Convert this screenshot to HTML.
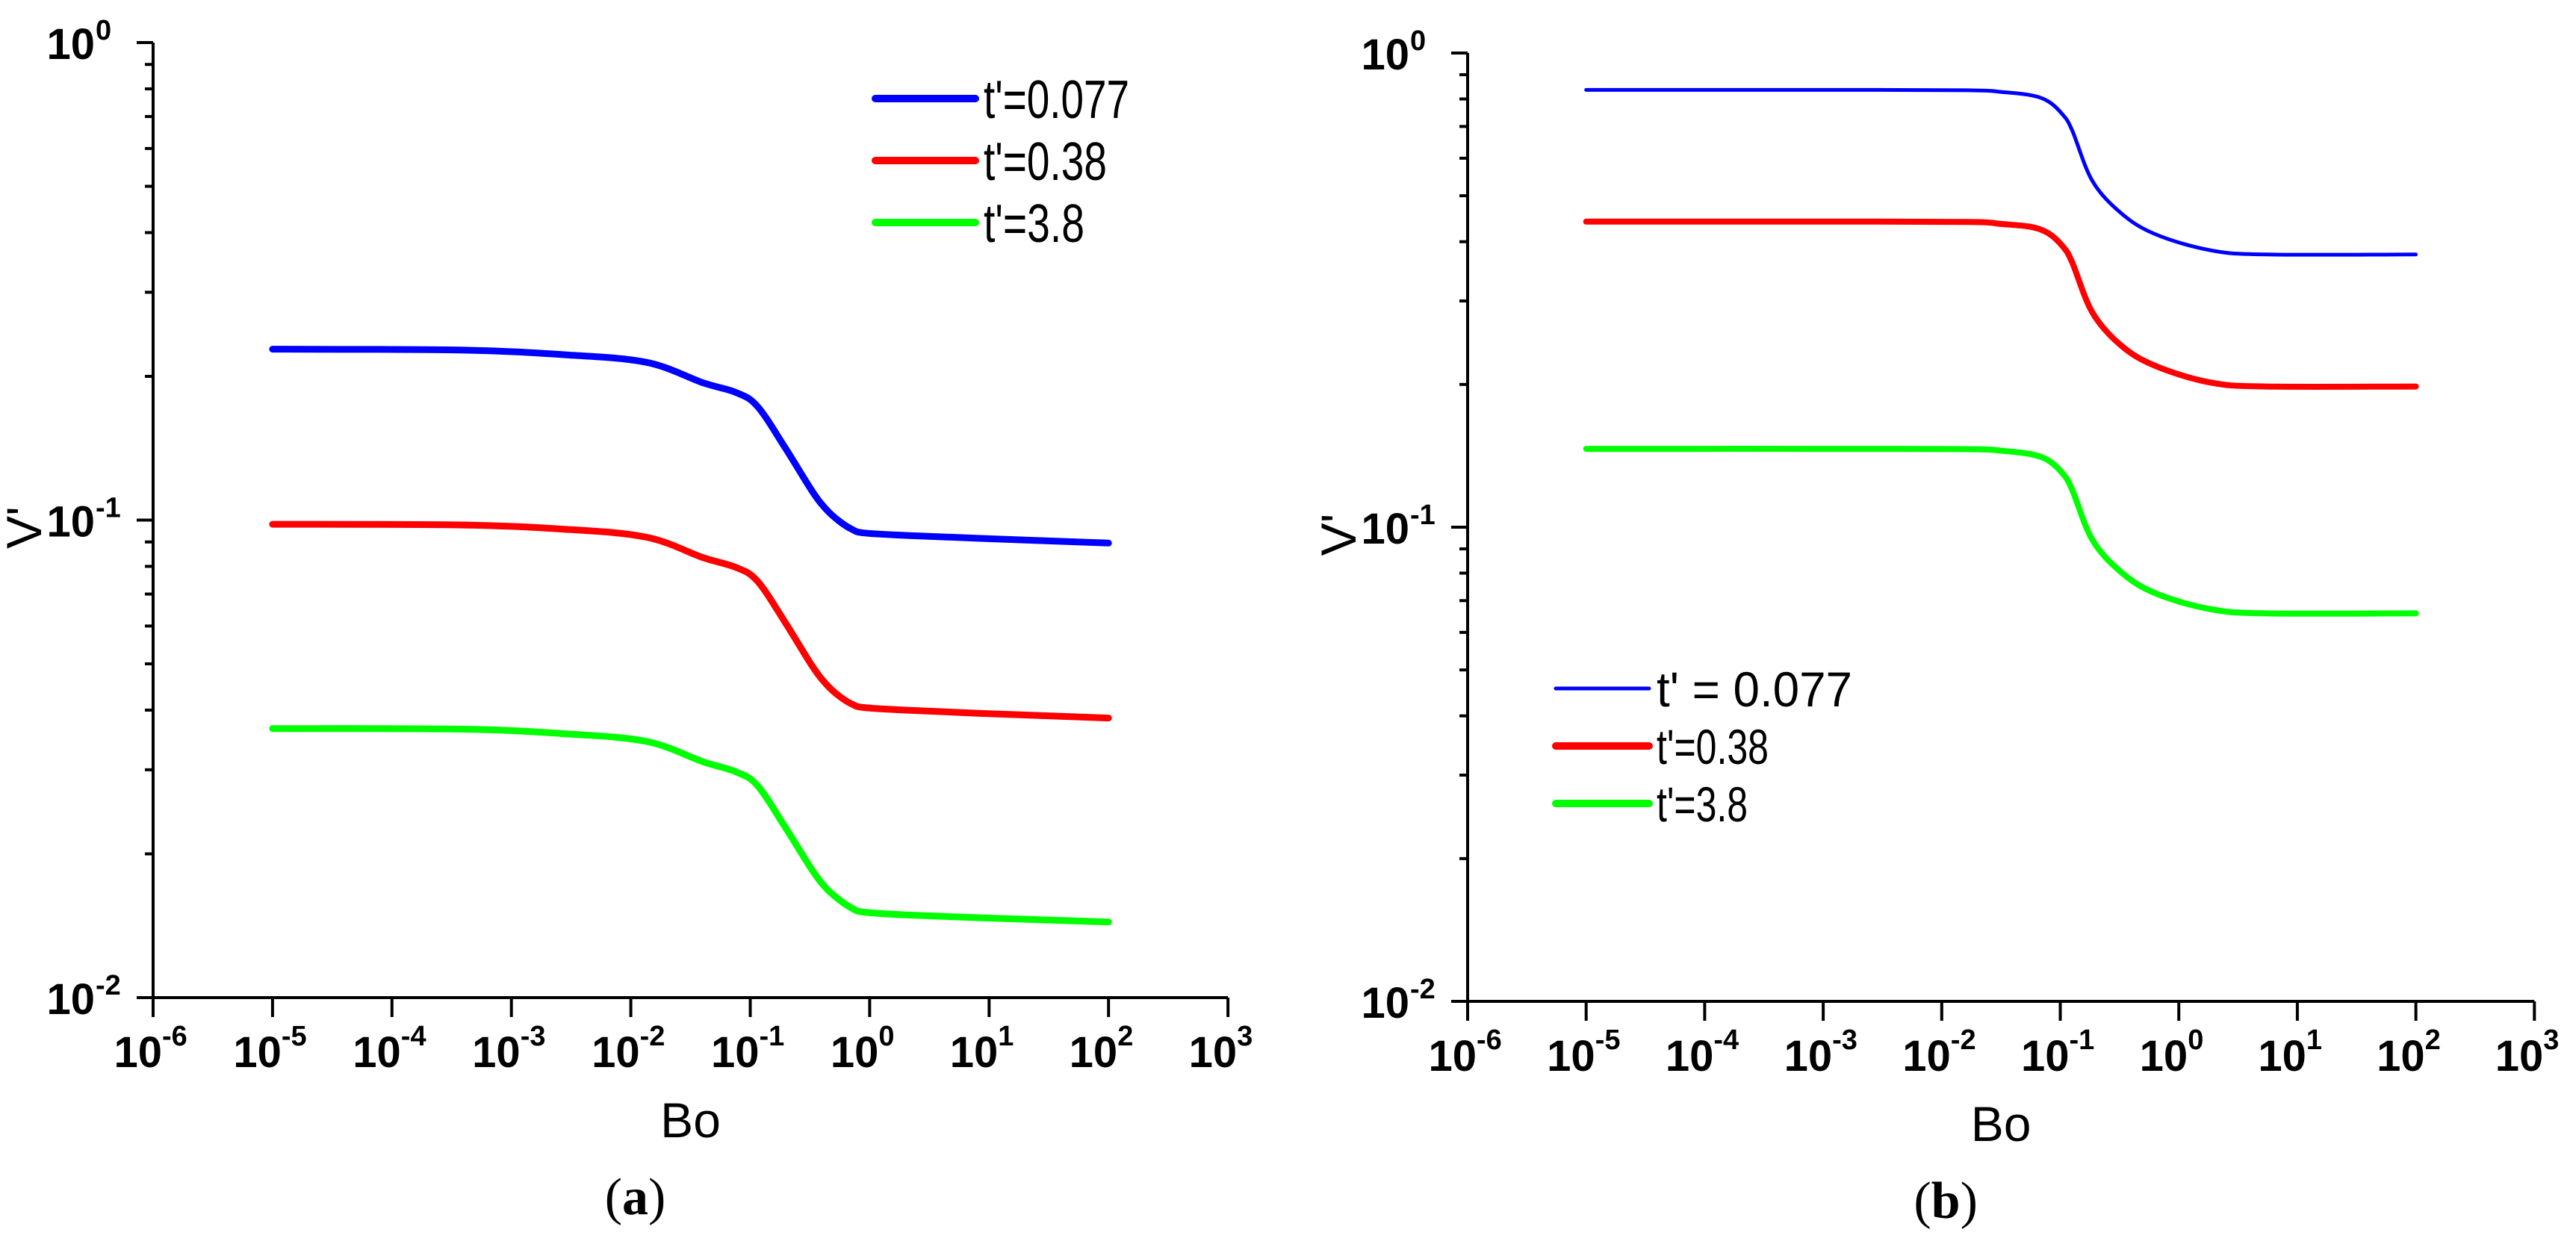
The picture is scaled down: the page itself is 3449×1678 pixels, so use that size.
<!DOCTYPE html>
<html><head><meta charset="utf-8"><style>
html,body{margin:0;padding:0;background:#fff;}
svg{display:block;}
</style></head><body>
<svg id="fig" width="3449" height="1678" viewBox="0 0 3449 1678" xmlns="http://www.w3.org/2000/svg" font-family="Liberation Sans, Arial, sans-serif">
<rect width="3449" height="1678" fill="#fff"/>
<g id="panelA"></g>
<g id="panelB"></g>
</svg>
<script>
// ---- data: panel (a) ----
const boA = [1e-5, 3.7e-4, 2.75e-3, 1.35e-2, 0.04, 0.076, 0.115, 0.195, 0.33, 0.437, 0.562, 0.708, 0.891, 2.0, 8.1, 100];
const blueA = [0.228, 0.227, 0.222, 0.214, 0.194, 0.185, 0.173, 0.142, 0.115, 0.105, 0.0993, 0.0957, 0.094, 0.0929, 0.0916, 0.0895];
const redA = [0.098, 0.0977, 0.0957, 0.0921, 0.0835, 0.0796, 0.0745, 0.0612, 0.0495, 0.0452, 0.0427, 0.0412, 0.0405, 0.0400, 0.0394, 0.0385];
const greenA = [0.0366, 0.0365, 0.0357, 0.0344, 0.0312, 0.0297, 0.0278, 0.0228, 0.0185, 0.0169, 0.0160, 0.0154, 0.0151, 0.0149, 0.0147, 0.0144];
// ---- data: panel (b) ----
const boB = [1e-5, 2.95e-3, 0.0195, 0.0316, 0.056, 0.079, 0.105, 0.126, 0.186, 0.324, 0.63, 1.82, 5.4, 100];
const blueB = [0.836, 0.836, 0.834, 0.828, 0.815, 0.791, 0.741, 0.687, 0.538, 0.460, 0.415, 0.384, 0.376, 0.376];
const redB = [0.441, 0.441, 0.440, 0.436, 0.430, 0.417, 0.391, 0.362, 0.284, 0.242, 0.219, 0.202, 0.198, 0.198];
const greenB = [0.1463, 0.1463, 0.146, 0.145, 0.1426, 0.1384, 0.1297, 0.120, 0.0942, 0.0805, 0.0726, 0.0672, 0.0658, 0.0658];
const xTickExp = [-6, -5, -4, -3, -2, -1, 0, 1, 2, 3];
const yTickExp = [0, -1, -2];
const legendLabelsA = ["t'=0.077", "t'=0.38", "t'=3.8"];
const legendLabelsB = ["t' = 0.077", "t'=0.38", "t'=3.8"];

const NS = "http://www.w3.org/2000/svg";
function mk(parent, tag, attrs) {
  const e = document.createElementNS(NS, tag);
  for (const k in attrs) e.setAttribute(k, attrs[k]);
  parent.appendChild(e);
  return e;
}
function pathThrough(pts) {
  let d = "M" + pts[0][0].toFixed(1) + "," + pts[0][1].toFixed(1);
  for (let i = 0; i < pts.length - 1; i++) {
    const p0 = pts[Math.max(0, i - 1)], p1 = pts[i], p2 = pts[i + 1], p3 = pts[Math.min(pts.length - 1, i + 2)];
    const c1 = [p1[0] + (p2[0] - p0[0]) / 6, p1[1] + (p2[1] - p0[1]) / 6];
    const c2 = [p2[0] - (p3[0] - p1[0]) / 6, p2[1] - (p3[1] - p1[1]) / 6];
    d += " C" + c1[0].toFixed(1) + "," + c1[1].toFixed(1) + " " + c2[0].toFixed(1) + "," + c2[1].toFixed(1) + " " + p2[0].toFixed(1) + "," + p2[1].toFixed(1);
  }
  return d;
}

function drawPanel(g, cfg) {
  const X = v => cfg.x0 + (Math.log10(v) + 6) * cfg.dx;
  const Y = v => cfg.yTop + (-Math.log10(v)) * cfg.dy;
  const yBot = cfg.yTop + 2 * cfg.dy;
  const xEnd = cfg.x0 + 9 * cfg.dx;
  const axes = mk(g, "g", {stroke: "#000", "stroke-width": 4, fill: "none"});
  
  
  mk(axes, "line", {x1: cfg.x0, y1: cfg.yTop, x2: cfg.x0, y2: yBot});
  mk(axes, "line", {x1: cfg.x0, y1: yBot, x2: xEnd, y2: yBot});
  for (let d = 0; d < 2; d++) {
    for (let m = 2; m <= 9; m++) {
      const v = Math.pow(10, -2 + d) * m;
      const y = Y(v);
      const t = mk(axes, "line", {x1: cfg.x0 - 11, y1: y, x2: cfg.x0, y2: y});
      
      
    }
  }
  yTickExp.forEach(e => {
    const y = Y(Math.pow(10, e));
    mk(axes, "line", {x1: cfg.x0 - 22, y1: y, x2: cfg.x0, y2: y});
    const t = mk(g, "text", {x: cfg.x0 - 78, y: y + 22, "font-size": 58, "font-weight": "bold", "text-anchor": "end"});
    t.textContent = "10";
    
    
    const s = mk(g, "text", {x: cfg.x0 - 77, y: y - 4, "font-size": 38, "font-weight": "bold", "text-anchor": "start"});
    s.textContent = String(e);
    
    
  });
  xTickExp.forEach(e => {
    const x = X(Math.pow(10, e));
    mk(axes, "line", {x1: x, y1: yBot, x2: x, y2: yBot + 26});
    const t = mk(g, "text", {x: x + 12, y: yBot + 93, "font-size": 58, "font-weight": "bold", "text-anchor": "end"});
    t.textContent = "10";
    
    
    const s = mk(g, "text", {x: x + 12, y: yBot + 64, "font-size": 38, "font-weight": "bold"});
    s.textContent = String(e);
    
    
  });
  cfg.series.forEach(s => {
    const pts = cfg.bo.map((b, i) => [X(b), Y(s.vals[i])]);
    const p = mk(g, "path", {d: pathThrough(pts), stroke: s.color, "stroke-width": s.w, fill: "none", "stroke-linecap": "round", "stroke-linejoin": "round"});
    
    
  });
  const bo = mk(g, "text", {x: (cfg.x0 + xEnd) / 2, y: yBot + 187, "font-size": 66, "text-anchor": "middle"});
  bo.textContent = "Bo";
  
  
  const vt = mk(g, "text", {x: 0, y: 0, "font-size": 66, "text-anchor": "middle", transform: "translate(" + (cfg.x0 - 150) + "," + (cfg.yTop + cfg.dy + 10) + ") rotate(-90)"});
  vt.textContent = "V'";
  
  
  const cap = mk(g, "text", {x: (cfg.x0 + xEnd) / 2 - 74, y: yBot + 290, "font-size": 70, "font-family": "Liberation Serif, serif", "text-anchor": "middle"});
  cap.innerHTML = "(<tspan font-weight='bold'>" + cfg.caption + "</tspan>)";
  
  
  cfg.legend.forEach((l, i) => {
    const y = cfg.lg.y0 + i * cfg.lg.step;
    const lg = mk(g, "g", {});
    
    
    mk(lg, "line", {x1: cfg.lg.x1, y1: y, x2: cfg.lg.x2, y2: y, stroke: cfg.series[i].color, "stroke-width": cfg.lg.w[i], "stroke-linecap": "round"});
    const t = mk(lg, "text", {x: cfg.lg.tx, y: y + cfg.lg.fs * 0.36, "font-size": cfg.lg.fs, textLength: cfg.lg.len[i], lengthAdjust: "spacingAndGlyphs"});
    t.textContent = l;
  });
}

drawPanel(document.getElementById("panelA"), {
  x0: 205, dx: 159.9, yTop: 57, dy: 639.5, bo: boA, caption: "a",
  series: [
    {vals: blueA, color: "#0000ff", w: 9, name: "series-t-0.077"},
    {vals: redA, color: "#ff0000", w: 9, name: "series-t-0.38"},
    {vals: greenA, color: "#00ff00", w: 9, name: "series-t-3.8"}],
  legend: legendLabelsA,
  lg: {x1: 1172, x2: 1306, tx: 1317, y0: 132, step: 83, fs: 72, w: [10, 10, 10], len: [195, 165, 135]}
});
drawPanel(document.getElementById("panelB"), {
  x0: 1965, dx: 158.7, yTop: 71, dy: 635, bo: boB, caption: "b",
  series: [
    {vals: blueB, color: "#0000ff", w: 5, name: "series-t-0.077"},
    {vals: redB, color: "#ff0000", w: 8, name: "series-t-0.38"},
    {vals: greenB, color: "#00ff00", w: 8, name: "series-t-3.8"}],
  legend: legendLabelsB,
  lg: {x1: 2083, x2: 2208, tx: 2218, y0: 922, step: 77, fs: 66, w: [5, 10, 10], len: [262, 150, 122]}
});
</script>
</body></html>
